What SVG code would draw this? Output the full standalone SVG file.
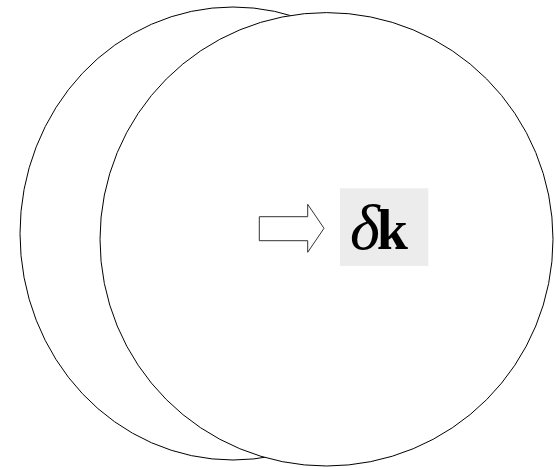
<svg xmlns="http://www.w3.org/2000/svg" width="556" height="468" viewBox="0 0 556 468">
<style>
.c{fill:#fff;stroke:#000;stroke-width:1}
.t{font-family:"Liberation Serif","Times New Roman",serif;font-size:56px;fill:#000}
</style>
<rect width="556" height="468" fill="#fff"/>
<g id="ellipse-left"><ellipse class="c" cx="233" cy="233.5" rx="213" ry="226.5"/></g>
<g id="ellipse-right"><ellipse class="c" cx="326.5" cy="239.3" rx="226.5" ry="226.7"/></g>
<g id="connectors">
<polygon points="259.3,216.7 307.7,216.7 307.7,204.3 324,228.3 307.7,252.3 307.7,240.7 259.3,240.7" fill="#fff" stroke="#333" stroke-width="1"/>
</g>
<g id="label">
<rect x="340" y="188.3" width="88.3" height="77.7" fill="#ececec"/>
<text class="t" x="350" y="248.5"><tspan font-style="italic" font-size="64">δ</tspan><tspan font-weight="bold" dx="-3">k</tspan></text>
</g>
</svg>
